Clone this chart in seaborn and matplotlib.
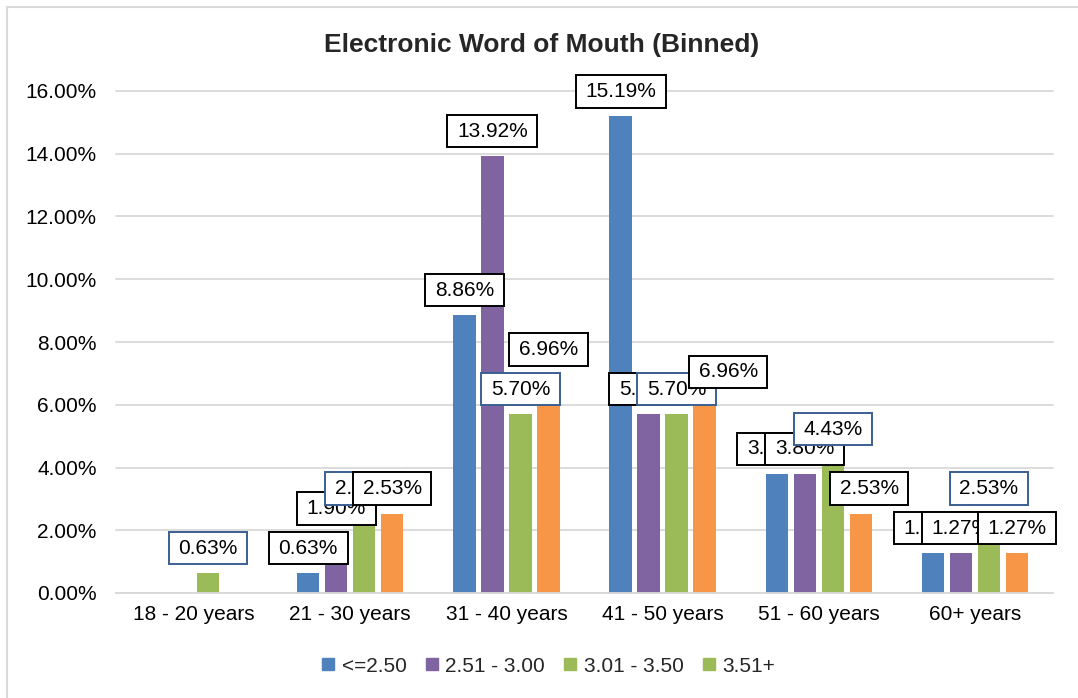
import matplotlib
matplotlib.use("Agg")
import numpy as np
import pandas as pd
import seaborn as sns
import matplotlib.pyplot as plt
from matplotlib.path import Path
from matplotlib.lines import Line2D
from matplotlib.patches import Rectangle
from matplotlib.ticker import PercentFormatter, MultipleLocator

# --- data -------------------------------------------------------------------
age_groups = ["18 - 20 years", "21 - 30 years", "31 - 40 years",
              "41 - 50 years", "51 - 60 years", "60+ years"]
score_bins = ["<=2.50", "2.51 - 3.00", "3.01 - 3.50", "3.51+"]

share_le_250 = [0.0, 0.0063, 0.0886, 0.1519, 0.0380, 0.0127]
share_251_300 = [0.0, 0.0190, 0.1392, 0.0570, 0.0380, 0.0127]
share_301_350 = [0.0063, 0.0253, 0.0570, 0.0570, 0.0443, 0.0253]
share_351_up = [0.0, 0.0253, 0.0696, 0.0696, 0.0253, 0.0127]

series_values = [share_le_250, share_251_300, share_301_350, share_351_up]

# --- style --------------------------------------------------------------------
bar_colors = ["#4F81BD", "#8064A2", "#9BBB59", "#F79646"]
legend_colors = ["#4F81BD", "#8064A2", "#9BBB59", "#9BBB59"]
label_edges = ["#000000", "#000000", "#3A5F8F", "#000000"]
grid_color = "#D9D9D9"

# label offsets in points (dx, dy) from the bar top; default sits just above
default_shift = (0, 18)
label_shift = {(3, 3): (17, 2), (4, 3): (6, 18)}

sns.set_style("white")
plt.rcParams["font.family"] = ["Liberation Sans", "DejaVu Sans"]

W, H = 1078, 698
fig = plt.figure(figsize=(W / 100, H / 100), dpi=100)
fig.patch.set_facecolor("white")
ax = fig.add_axes([116 / W, 105 / H, 937 / W, 502 / H])

df = pd.DataFrame({
    "age": np.tile(age_groups, len(score_bins)),
    "score": np.repeat(score_bins, len(age_groups)),
    "share": np.concatenate(series_values),
})

sns.barplot(data=df, x="age", y="share", hue="score",
            order=age_groups, hue_order=score_bins,
            palette=bar_colors, saturation=1, width=0.717, gap=0.2,
            linewidth=0, legend=False, ax=ax)

ax.set_xlim(-0.5, len(age_groups) - 0.5)
ax.set_ylim(0, 0.16)
ax.yaxis.set_major_locator(MultipleLocator(0.02))
ax.yaxis.set_major_formatter(PercentFormatter(1.0, decimals=2))
ax.set_xlabel("")
ax.set_ylabel("")
ax.tick_params(axis="both", length=0, labelsize=15, labelcolor="#000000")
ax.tick_params(axis="y", pad=14)
ax.tick_params(axis="x", pad=9)

for side in ["top", "right", "left"]:
    ax.spines[side].set_visible(False)
ax.spines["bottom"].set_color(grid_color)
ax.spines["bottom"].set_linewidth(1.3)
ax.yaxis.grid(True, color=grid_color, linewidth=1.3)
for gl in ax.get_ygridlines():
    gl.set_clip_on(False)
ax.set_axisbelow(True)


def label_box(x0, y0, width, height, mutation_size):
    """Rectangular label frame with wider horizontal padding."""
    px = 0.46 * mutation_size
    py = 0.32 * mutation_size
    x0, y0 = x0 - px, y0 - py
    x1, y1 = x0 + width + 2 * px, y0 + height + 2 * py
    return Path([(x0, y0), (x1, y0), (x1, y1), (x0, y1), (x0, y0)], closed=True)


for si, container in enumerate(ax.containers):
    for ci, bar in enumerate(container):
        v = series_values[si][ci]
        if v == 0:
            continue
        xc = bar.get_x() + bar.get_width() / 2
        top = bar.get_height()
        dx, dy = label_shift.get((ci, si), default_shift)
        ax.annotate(f"{v:.2%}", (xc, top), xytext=(dx, dy),
                    textcoords="offset points", ha="center", va="center",
                    fontsize=15, color="#000000", zorder=5 + si,
                    annotation_clip=False,
                    bbox=dict(boxstyle=label_box, fc="white",
                              ec=label_edges[si], lw=1.4))

handles = [Line2D([], [], ls="none", marker="s", ms=8, mfc=c, mec=c)
           for c in legend_colors]
fig.legend(handles, score_bins, loc="center",
           bbox_to_anchor=(548 / W, 1 - 666 / H), ncol=4, frameon=False,
           fontsize=15, handlelength=0.7, handletextpad=0.3,
           columnspacing=0.85, borderaxespad=0)

fig.text(542 / W, 1 - 45 / H, "Electronic Word of Mouth (Binned)",
         ha="center", va="center", fontsize=19, fontweight="bold")

# chart frame
fig.add_artist(Rectangle((7 / W, -0.1), 1.2, (H - 7) / H + 0.1,
                         transform=fig.transFigure, fill=False,
                         ec=grid_color, lw=1.5))

fig.savefig("out.png", dpi=100, facecolor="white")
